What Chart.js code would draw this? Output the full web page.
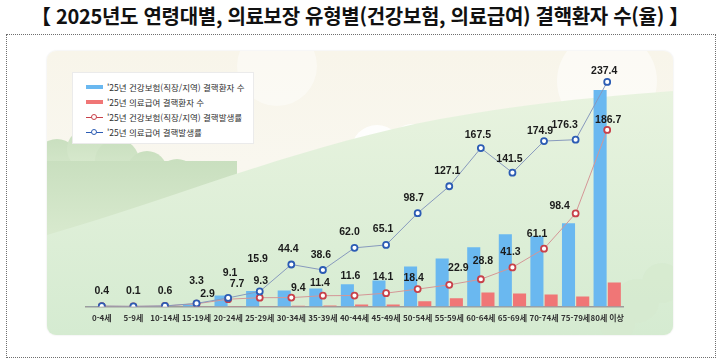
<!DOCTYPE html>
<html lang="ko">
<head>
<meta charset="utf-8">
<script src="https://cdn.jsdelivr.net/npm/chart.js@4/dist/chart.umd.min.js"></script>
<style>
  html, body { margin:0; padding:0; width:720px; height:360px; background:#ffffff; overflow:hidden; }
  #title { position:absolute; left:0; top:2px; width:720px; text-align:center; white-space:nowrap;
    font-family:"Noto Sans CJK KR","Noto Sans",sans-serif; font-weight:700; font-size:20px; line-height:28px; color:#111; letter-spacing:-0.3px; }
  #frame { position:absolute; left:6px; top:34px; width:708px; height:322px; border:1px dotted #6f6f6f; }
  #panel { position:absolute; left:47px; top:51px; width:626px; height:284px; border-radius:9px; overflow:hidden;
    box-shadow:0 0 2px rgba(0,0,0,0.12);
    background:linear-gradient(180deg, #f8f5ea 0%, #f9f7ef 40%, #eef5e6 100%); }
  #panel svg { position:absolute; left:0; top:0; }
  #legend { position:absolute; left:72px; top:72px; width:180px; height:70px; background:#ffffff; border:1px solid #ebebeb;
    font-family:"Noto Sans CJK KR","Noto Sans",sans-serif; font-size:8.5px; color:#2e2e2e; }
  .li { position:absolute; left:13px; height:14px; line-height:14px; white-space:nowrap; }
  .sym { display:inline-block; width:17px; height:14px; vertical-align:top; position:relative; margin-right:4px; }
  .bar { position:absolute; left:0; top:5px; width:17px; height:4px; }
  .ln { position:absolute; left:0; top:6.5px; width:17px; height:1.2px; }
  .dot { position:absolute; left:5px; top:3.5px; width:4px; height:4px; border-radius:50%; border:1.5px solid; background:#fff; }
  canvas { position:absolute; left:0; top:0; }
</style>
</head>
<body>
<div id="title">【 2025년도 연령대별, 의료보장 유형별(건강보험, 의료급여) 결핵환자 수(율) 】</div>
<div id="frame"></div>
<div id="panel">
  <svg width="626" height="284" viewBox="0 0 626 284">
    <defs>
      <linearGradient id="hill" x1="0" y1="0" x2="0" y2="1">
        <stop offset="0" stop-color="#e8f3df"/><stop offset="1" stop-color="#d5ebd1"/>
      </linearGradient>
      <linearGradient id="bush" x1="0" y1="0" x2="0" y2="1">
        <stop offset="0" stop-color="#c9dfbf"/><stop offset="1" stop-color="#d9eacf"/>
      </linearGradient>
    </defs>
    <g fill="#ffffff" opacity="0.85">
      <circle cx="300" cy="115" r="22"/><circle cx="330" cy="100" r="26"/><circle cx="365" cy="95" r="22"/><circle cx="395" cy="92" r="18"/>
      <circle cx="230" cy="15" r="40" opacity="0.5"/><circle cx="560" cy="30" r="50" opacity="0.6"/>
    </g>
    <g fill="url(#bush)">
      <circle cx="10" cy="110" r="22"/><circle cx="40" cy="98" r="20"/><circle cx="70" cy="110" r="22"/><circle cx="100" cy="120" r="20"/>
      <circle cx="130" cy="128" r="20"/><circle cx="160" cy="140" r="18"/><circle cx="185" cy="155" r="16"/>
      <rect x="0" y="110" width="190" height="80"/>
    </g>
    <path d="M0,184 C120,150 250,95 393,68 C480,52 560,45 626,40 L626,284 L0,284 Z" fill="url(#hill)"/>
    <g fill="#d6ead0" opacity="0.9">
      <circle cx="590" cy="250" r="22"/><circle cx="615" cy="232" r="20"/><circle cx="570" cy="272" r="18"/>
    </g>
  </svg>
</div>
<canvas id="c" width="720" height="360"></canvas>
<div id="legend"></div>
<script>
// ---- data ----
const categories = ["0-4세","5-9세","10-14세","15-19세","20-24세","25-29세","30-34세","35-39세","40-44세","45-49세","50-54세","55-59세","60-64세","65-69세","70-74세","75-79세","80세 이상"];
// patient counts (estimated from bar heights; not labelled in the source)
const nhisPatients = [5, 2, 8, 40, 235, 330, 345, 385, 475, 560, 860, 1030, 1270, 1550, 1505, 1785, 4645];
const medAidPatients = [0, 0, 1, 5, 10, 12, 15, 22, 45, 45, 110, 175, 300, 280, 260, 215, 515];
// incidence rates (labelled)
const nhisRate = [0.4, 0.1, 0.6, 2.9, 7.7, 9.3, 9.4, 11.4, 11.6, 14.1, 18.4, 22.9, 28.8, 41.3, 61.1, 98.4, 186.7];
const medAidRate = [0.4, 0.1, 0.6, 3.3, 9.1, 15.9, 44.4, 38.6, 62.0, 65.1, 98.7, 127.1, 167.5, 141.5, 174.9, 176.3, 237.4];
const seriesNames = ["'25년 건강보험(직장/지역) 결핵환자 수","'25년 의료급여 결핵환자 수","'25년 건강보험(직장/지역) 결핵발생률","'25년 의료급여 결핵발생률"];

// ---- styles ----
const C = { blueBar:"#6ab8f0", redBar:"#f07676", redLine:"#d49696", redDot:"#c8414a", blueLine:"#8799bd", blueDot:"#2c5cb4" };
// value-label nudges [dx, dy] relative to the point (style only)
const labelNudge = {
  2: [null,null,null,[11,-10],[9,-15],[1,-17],[7,-9],[-3,-13],[-4,-19],[-3,-16],[-4,-11],[9,-17],[2,-18],[-2,-15],[-7,-15],[-16,-7],[1,-10]],
  3: [[0,-15],[0,-15],[0,-15],[0,-22],[2,-25],[-2,-32],[-3,-15],[-2,-15],[-5,-16],[-3,-16],[-4,-15],[-2,-15],[-3,-13],[-3,-14],[-4,-10],[-11,-15],[-3,-11]]
};

// legend (HTML)
const leg = document.getElementById('legend');
const legSpec = [
  {type:'bar', color:C.blueBar}, {type:'bar', color:C.redBar},
  {type:'line', color:C.redDot, dot:C.redDot}, {type:'line', color:C.blueDot, dot:C.blueDot}
];
legSpec.forEach((s,i)=>{
  const d = document.createElement('div'); d.className='li'; d.style.top=(7+i*15)+'px';
  const sym = document.createElement('span'); sym.className='sym';
  if (s.type==='bar') { const b=document.createElement('span'); b.className='bar'; b.style.background=s.color; sym.appendChild(b); }
  else { const l=document.createElement('span'); l.className='ln'; l.style.background=s.color; sym.appendChild(l);
    const o=document.createElement('span'); o.className='dot'; o.style.borderColor=s.dot; sym.appendChild(o); }
  d.appendChild(sym); d.appendChild(document.createTextNode(seriesNames[i])); leg.appendChild(d);
});

const valueLabels = {
  id:'valueLabels',
  afterDatasetsDraw(chart){
    const ctx = chart.ctx; ctx.save();
    ctx.font = "bold 10.5px 'Liberation Sans', Arial, sans-serif";
    ctx.fillStyle = "#1b1b1b"; ctx.textAlign='center'; ctx.textBaseline='middle';
    [2,3].forEach(di=>{
      const meta = chart.getDatasetMeta(di);
      const data = chart.data.datasets[di].data;
      meta.data.forEach((pt,i)=>{
        const n = labelNudge[di][i];
        if (!n) return;
        ctx.fillText(data[i].toFixed(1), pt.x+n[0], pt.y+n[1]);
      });
    });
    ctx.restore();
  }
};

new Chart(document.getElementById('c'), {
  data: {
    labels: categories,
    datasets: [
      { type:'bar', label:seriesNames[0], data:nhisPatients, backgroundColor:C.blueBar, yAxisID:'yb', order:2, categoryPercentage:0.9, barPercentage:0.92 },
      { type:'bar', label:seriesNames[1], data:medAidPatients, backgroundColor:C.redBar, yAxisID:'yb', order:2, categoryPercentage:0.9, barPercentage:0.92 },
      { type:'line', label:seriesNames[2], data:nhisRate, borderColor:C.redLine, borderWidth:1, pointRadius:3, pointBorderWidth:1.8,
        pointBorderColor:C.redDot, pointBackgroundColor:'#ffffff', yAxisID:'yl', order:1, tension:0 },
      { type:'line', label:seriesNames[3], data:medAidRate, borderColor:C.blueLine, borderWidth:1, pointRadius:3, pointBorderWidth:1.8,
        pointBorderColor:C.blueDot, pointBackgroundColor:'#ffffff', yAxisID:'yl', order:0, tension:0 }
    ]
  },
  options: {
    responsive:false, animation:false,
    layout:{ padding:{ left:86, right:97, top:70, bottom:33 } },
    plugins:{ legend:{display:false}, tooltip:{enabled:false} },
    scales:{
      x:{ grid:{display:false, drawTicks:false}, border:{display:true, color:'#9c9c9c', width:1.5},
          afterFit(scale){ scale.height = 20.5; },
          ticks:{ color:'#333', padding:7, maxRotation:0, minRotation:0, autoSkip:false, font:{family:"'Noto Sans CJK KR', sans-serif", size:8, weight:'bold'} } },
      yl:{ display:false, min:0, max:250 },
      yb:{ display:false, min:0, max:5075 }
    }
  },
  plugins:[valueLabels]
});
</script>
</body>
</html>
